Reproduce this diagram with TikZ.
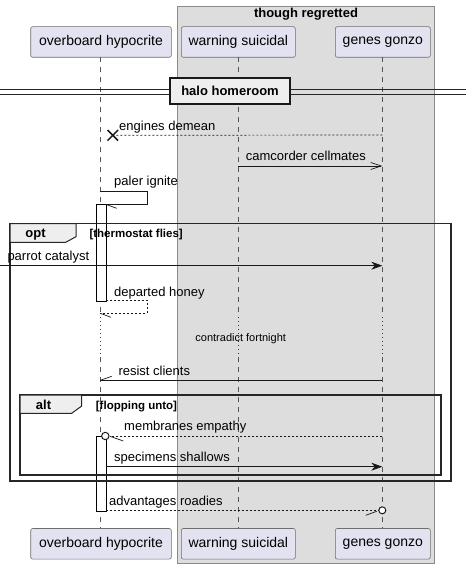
\documentclass[tikz,border=0pt]{standalone}
\usepackage{fontspec}
\setmainfont{Liberation Sans}
\usetikzlibrary{arrows.meta,calc}
\definecolor{partfill}{HTML}{E2E2F0}
\definecolor{partline}{HTML}{6E6E6E}
\definecolor{boxfill}{HTML}{DDDDDD}
\definecolor{boxline}{HTML}{8A8A8A}
\definecolor{tabfill}{HTML}{EEEEEE}
\definecolor{delaycol}{HTML}{A80036}
\definecolor{lifecol}{HTML}{555555}
\begin{document}
\begin{tikzpicture}[x=1pt,y=-1pt,
  part/.style={draw=partline,line width=0.6pt,fill=partfill,rounded corners=2pt,
    minimum height=30.6pt,inner sep=0pt,font=\fontsize{14}{16}\selectfont},
  lifeline/.style={draw=lifecol,line width=0.5pt,dash pattern=on 5pt off 5pt},
  delayline/.style={draw=delaycol,line width=0.9pt,dash pattern=on 1pt off 3pt},
  msg/.style={line width=0.7pt,draw=black!90},
  dmsg/.style={msg,dash pattern=on 2pt off 2pt},
  lbl/.style={anchor=base west,inner sep=0pt,font=\fontsize{13}{15}\selectfont},
  frameline/.style={draw=black!85,line width=1.5pt},
  tab/.style={fill=tabfill,draw=black!85,line width=1pt},
  boldlbl/.style={inner sep=0pt,font=\bfseries\fontsize{13}{15}\selectfont},
  guard/.style={anchor=base west,inner sep=0pt,font=\bfseries\fontsize{11.5}{13}\selectfont},
  act/.style={draw=black,line width=0.8pt,fill=white},
  filledhead/.style={-{Stealth[length=11pt,width=8pt,inset=3.5pt]}},
  openhead/.style={-{Straight Barb[length=10.5pt,width=7pt]}}
]
\useasboundingbox (0,0) rectangle (466,569);

% group box
\path[fill=boxfill,draw=boxline,line width=0.8pt] (177.7,6) rectangle (434.3,563);
\node[boldlbl,anchor=base] (grp) at (306,17.8) {though regretted};

% participants
\node[part,minimum width=140.6pt] (ob) at (101,42) {overboard hypocrite};
\node[part,minimum width=114pt] (ws) at (238.3,42) {warning suicidal};
\node[part,minimum width=95pt] (gg) at (382.8,42) {genes gonzo};
\node[part,minimum width=140.6pt] (obB) at (101,543.8) {overboard hypocrite};
\node[part,minimum width=114pt] (wsB) at (238.3,543.8) {warning suicidal};
\node[part,minimum width=95pt] (ggB) at (382.8,543.8) {genes gonzo};

% lifeline coordinates
\coordinate (obT) at (100.3,57.3);
\coordinate (wsT) at (238.3,57.3);
\coordinate (ggT) at (382.3,57.3);
\coordinate (obD1) at (100.3,317);
\coordinate (wsD1) at (238.3,317);
\coordinate (ggD1) at (382.3,317);
\coordinate (obD2) at (100.3,357);
\coordinate (wsD2) at (238.3,357);
\coordinate (ggD2) at (382.3,357);
\coordinate (obE) at (100.3,528.3);
\coordinate (wsE) at (238.3,528.3);
\coordinate (ggE) at (382.3,528.3);
\foreach \p in {ob,ws,gg}{
  \draw[lifeline] (\p T) -- (\p D1);
  \draw[delayline] (\p D1) -- (\p D2);
  \draw[lifeline] (\p D2) -- (\p E);
}

% activation bars (drawn beneath frames and messages)
\node[act,minimum width=10pt,minimum height=96.7pt,inner sep=0pt,anchor=north west] (a1) at (95.7,204.3) {};
\node[act,minimum width=10pt,minimum height=74.7pt,inner sep=0pt,anchor=north west] (a2) at (95.7,436.3) {};

% divider
\draw[black!85,line width=0.8pt] (0,89.3) -- (466,89.3);
\draw[black!85,line width=0.8pt] (0,94) -- (466,94);
\node[draw=black!90,line width=1.8pt,fill=tabfill,minimum width=119.4pt,minimum height=26.3pt,
  inner sep=0pt,font=\bfseries\fontsize{13}{15}\selectfont] (div) at (230,91.2) {halo homeroom};

% engines demean
\coordinate (m1s) at (382.3,135);
\coordinate (m1e) at (112.8,135.3);
\draw[dmsg] (m1s) -- (m1e);
\draw[black!90,line width=1.5pt] ($(m1e)+(-5.3,-5.3)$) -- ($(m1e)+(5.3,5.3)$)
  ($(m1e)+(-5.3,5.3)$) -- ($(m1e)+(5.3,-5.3)$);
\node[lbl] (l1) at (119,131) {engines demean};

% camcorder cellmates
\coordinate (m2s) at (238.3,166);
\coordinate (m2e) at (382.3,166);
\draw[msg,openhead] (m2s) -- (m2e);
\node[lbl] (l2) at (245.7,160.8) {camcorder cellmates};

% paler ignite (self)
\coordinate (m3s) at (100.3,191.7);
\coordinate (m3e) at (105.7,204.3);
\draw[msg] (m3s) -- (147,191.7) -- (147,204.3) -- (m3e);
\draw[msg] (m3e) -- ++(11,4);
\node[lbl] (l3) at (114,185.5) {paler ignite};

% opt frame
\draw[frameline] (10,223.7) rectangle (451,481);
\draw[tab] (10,223.7) -- (76,223.7) -- (76,236.7) -- (65.7,242.3) -- (10,242.3) -- cycle;
\node[boldlbl,anchor=base] (optl) at (35.5,237.6) {opt};
\node[guard] (optg) at (89.3,237.6) {[thermostat flies]};

% parrot catalyst
\coordinate (m4s) at (0,265.7);
\coordinate (m4e) at (382.3,265.7);
\draw[msg,filledhead] (m4s) -- (m4e);
\node[lbl] (l4) at (7.3,260.2) {parrot catalyst};

% departed honey (self, dashed)
\coordinate (m5s) at (105.7,300.3);
\coordinate (m5e) at (100.3,313.3);
\draw[dmsg] (m5s) -- (147,300.3) -- (147,313.3) -- (m5e);
\draw[msg] (m5e) -- ++(10.7,4);
\node[lbl] (l5) at (114,296) {departed honey};

% delay text
\node[inner sep=0pt,anchor=base,font=\fontsize{11}{13}\selectfont] (dl) at (240.7,341.3) {contradict fortnight};

% resist clients
\coordinate (m6s) at (382.3,380.3);
\coordinate (m6e) at (100.3,380.3);
\draw[msg] (m6s) -- (m6e);
\draw[msg] (m6e) -- ++(11.4,-4);
\node[lbl] (l6) at (118.3,375.8) {resist clients};

% alt frame
\draw[frameline] (20,395) rectangle (441,475);
\draw[tab] (20,395) -- (81.7,395) -- (81.7,406) -- (71.7,413.3) -- (20,413.3) -- cycle;
\node[boldlbl,anchor=base] (altl) at (43.5,409.3) {alt};
\node[guard] (altg) at (95.7,409.3) {[flopping unto]};

% membranes empathy
\coordinate (m7s) at (382.3,436);
\node[circle,draw=black!90,line width=1pt,minimum size=7.4pt,inner sep=0pt,fill=white] (c7) at (105.3,436) {};
\draw[dmsg] (m7s) -- (c7.east);
\draw[msg] (110,436.3) -- (123.3,441);
\node[lbl] (l7) at (124,430.3) {membranes empathy};

% specimens shallows
\coordinate (m8s) at (105.7,466.7);
\coordinate (m8e) at (382.3,466.7);
\draw[msg,filledhead] (m8s) -- (m8e);
\node[lbl] (l8) at (114,461.3) {specimens shallows};

% advantages roadies
\coordinate (m9s) at (105.7,510.3);
\node[circle,draw=black!90,line width=1pt,minimum size=7pt,inner sep=0pt,fill=white] (c9) at (382.3,510.3) {};
\draw[dmsg] (m9s) -- (c9.west);
\draw[msg] (376.7,511.3) -- (365.7,515.3);
\node[lbl] (l9) at (109,505.2) {advantages roadies};
\end{tikzpicture}
\end{document}
